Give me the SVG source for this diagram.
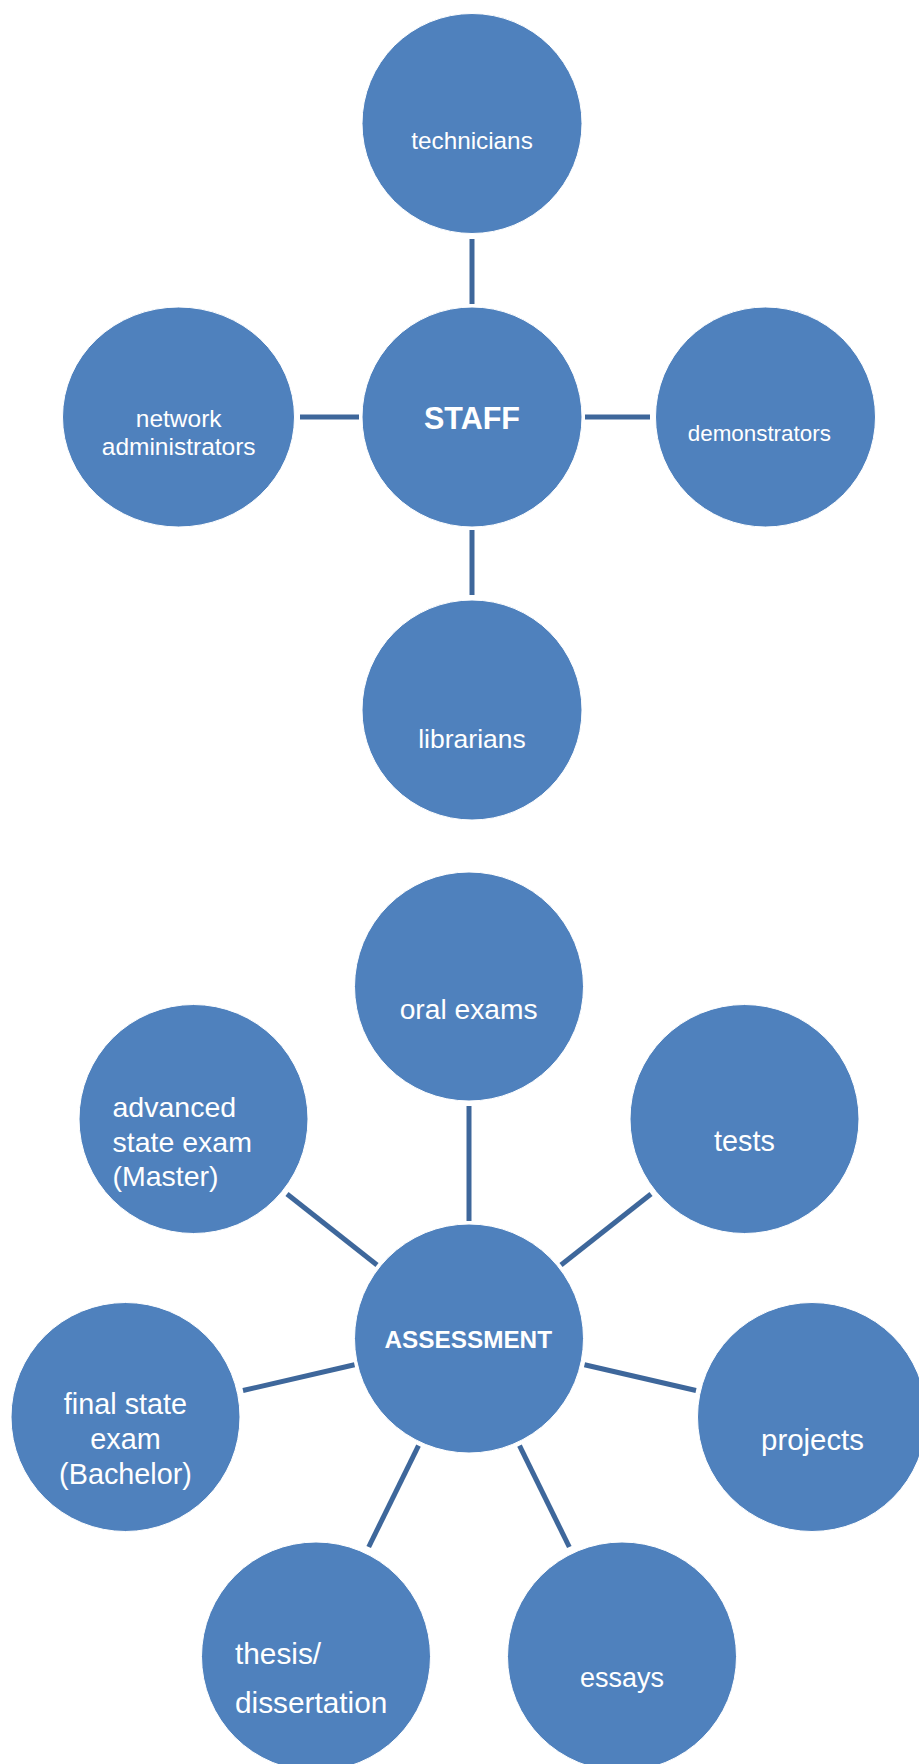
<svg xmlns="http://www.w3.org/2000/svg" width="919" height="1764" viewBox="0 0 919 1764">
<style>
.n{fill:#4f81bd;stroke:#ffffff;stroke-width:1}
.t{fill:#ffffff;font-family:"Liberation Sans",Arial,sans-serif;text-anchor:middle}
.l{text-anchor:start}
.b{font-weight:bold}
.c line{stroke:#3e679b;stroke-width:5}
</style>
<rect width="919" height="1764" fill="#ffffff"/>
<g class="c" id="connectors">
<line x1="472" y1="239" x2="472" y2="304"/>
<line x1="300" y1="417" x2="359" y2="417"/>
<line x1="585" y1="417" x2="650" y2="417"/>
<line x1="472" y1="530" x2="472" y2="595"/>
<line x1="469" y1="1106" x2="469" y2="1221"/>
<line x1="287" y1="1194" x2="377" y2="1265"/>
<line x1="651" y1="1194" x2="561" y2="1265"/>
<line x1="243" y1="1390.5" x2="354.5" y2="1364.8"/>
<line x1="584.5" y1="1364.8" x2="696" y2="1390.5"/>
<line x1="418.5" y1="1445.6" x2="368.7" y2="1547"/>
<line x1="519.5" y1="1445.6" x2="569.3" y2="1547"/>
</g>
<g id="technicians"><circle class="n" cx="472" cy="123.5" r="110"/><text class="t" x="472" y="149" font-size="24.3">technicians</text></g>
<g id="staff"><circle class="n" cx="472" cy="417" r="110"/><text class="t b" x="472" y="428.5" font-size="30.5">STAFF</text></g>
<g id="network-administrators"><ellipse class="n" cx="178.5" cy="417" rx="116" ry="110"/><text class="t" font-size="24.5"><tspan x="178.7" y="426.7">network</tspan><tspan x="178.7" y="455">administrators</tspan></text></g>
<g id="demonstrators"><circle class="n" cx="765.5" cy="417" r="110"/><text class="t" x="759.3" y="441" font-size="22.4">demonstrators</text></g>
<g id="librarians"><circle class="n" cx="472" cy="710" r="110"/><text class="t" x="472" y="747.7" font-size="26.5">librarians</text></g>
<g id="oral-exams"><circle class="n" cx="469" cy="986.5" r="114.5"/><text class="t" x="468.6" y="1019" font-size="28.2">oral exams</text></g>
<g id="assessment"><circle class="n" cx="469" cy="1338.5" r="114.5"/><text class="t b" x="468.3" y="1348" font-size="24.3">ASSESSMENT</text></g>
<g id="advanced-state-exam"><circle class="n" cx="193.5" cy="1119" r="114.5"/><text class="t l" font-size="28.5"><tspan x="112.5" y="1117">advanced</tspan><tspan x="112.5" y="1151.5">state exam</tspan><tspan x="112.5" y="1186">(Master)</tspan></text></g>
<g id="tests"><circle class="n" cx="744.5" cy="1119" r="114.5"/><text class="t" x="744.5" y="1151" font-size="28.8">tests</text></g>
<g id="final-state-exam"><circle class="n" cx="125.5" cy="1417" r="114.5"/><text class="t" font-size="28.8"><tspan x="125.5" y="1414">final state</tspan><tspan x="125.5" y="1449">exam</tspan><tspan x="125.5" y="1484">(Bachelor)</tspan></text></g>
<g id="projects"><circle class="n" cx="812" cy="1417" r="114.5"/><text class="t" x="812.5" y="1450" font-size="29.4">projects</text></g>
<g id="thesis-dissertation"><circle class="n" cx="316" cy="1656.5" r="114.5"/><text class="t l" font-size="29.8"><tspan x="235" y="1664">thesis/</tspan><tspan x="235" y="1712.7">dissertation</tspan></text></g>
<g id="essays"><circle class="n" cx="622" cy="1656.5" r="114.5"/><text class="t" x="622" y="1687.4" font-size="27">essays</text></g>
</svg>
